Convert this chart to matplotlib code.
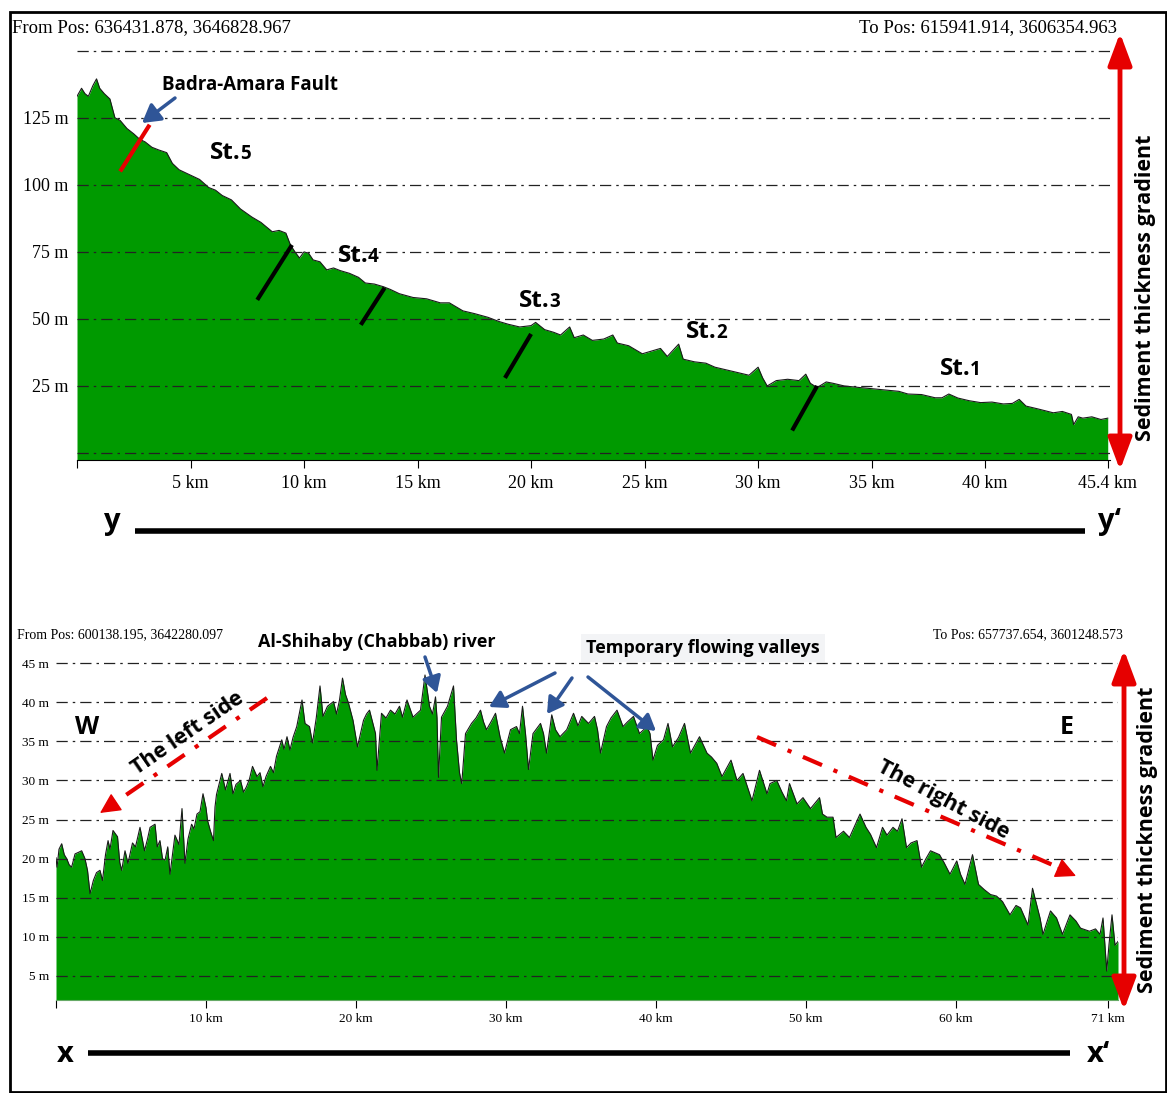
# plot.py
# Two elevation profiles (y-y' and x-x') with annotations

import numpy as np
import matplotlib
matplotlib.use("Agg")
from matplotlib import pyplot as plt
from matplotlib.patches import FancyArrowPatch, Rectangle
from matplotlib.lines import Line2D

# Figure size in pixels
W = 1167
H = 1093

# Profile y-y' (distance in km, elevation in m)
yy_km = [0.0, 0.2, 0.35, 0.5, 0.7, 0.86, 1.0, 1.2, 1.45, 1.67, 1.9, 2.2, 2.5, 2.76, 3.0,
         3.3, 3.6, 3.95, 4.2, 4.5, 4.9, 5.4, 5.8, 6.1, 6.4, 6.8, 7.2, 7.7, 8.1, 8.6,
         8.9, 9.2, 9.4, 9.6, 9.8, 10.0, 10.2, 10.4, 10.7, 11.0, 11.3, 11.6, 12.0, 12.4, 12.7,
         13.1, 13.5, 13.8, 14.2, 14.8, 15.4, 16.0, 16.4, 17.0, 17.5, 18.1, 18.6, 19.0, 19.5, 20.0,
         20.2, 20.6, 21.0, 21.3, 21.7, 21.9, 22.3, 22.7, 23.2, 23.6, 23.8, 24.3, 24.9, 25.3, 25.7,
         26.0, 26.5, 26.7, 27.2, 27.7, 28.1, 28.6, 29.1, 29.6, 30.0, 30.2, 30.4, 30.8, 31.3, 31.8,
         32.1, 32.3, 32.6, 33.0, 33.3, 33.8, 34.5, 35.0, 35.6, 36.2, 36.6, 37.2, 37.8, 38.1, 38.4,
         38.8, 39.3, 39.8, 40.3, 40.8, 41.2, 41.5, 41.8, 42.3, 43.0, 43.4, 43.8, 43.9, 44.1, 44.3,
         44.7, 45.1, 45.4]
yy_m = [133, 136, 134, 133, 137, 139.5, 136, 134, 132, 125, 124, 121, 119, 117, 116,
        114, 113, 112, 108, 105.6, 104, 102, 99, 98, 96, 94.4, 91, 88, 86, 82.5,
        83, 82, 77.6, 75, 72.7, 75, 74.5, 72, 71.3, 68.3, 69, 68, 67, 65.5, 63.4,
        63, 62, 61, 59.4, 58, 57.5, 56, 56, 53, 52, 50.6, 49, 48, 47, 47.5,
        48.7, 46, 45, 44, 47, 43, 44, 42, 42.5, 44, 41, 40, 37, 38, 39,
        36, 40.6, 35, 34, 33.5, 32, 31, 30, 29, 32, 28, 25, 27, 27.5, 27,
        29.4, 26, 24.4, 26.5, 26, 25, 24.4, 24, 23.5, 23, 22, 21.8, 20.6, 20.6, 22,
        20.5, 19.5, 18.8, 19, 18.3, 18.5, 20, 17.5, 16.5, 15, 15.5, 14.4, 10.6, 13.5, 13,
        13.5, 12.5, 13]

# Profile x-x' (distance in km, elevation in m)
xx_km = [0.0, 0.07, 0.2, 0.38, 0.55, 0.71, 0.88, 1.04, 1.27, 1.5, 1.71, 1.93, 2.1, 2.27, 2.49,
         2.7, 2.93, 3.1, 3.3, 3.47, 3.6, 3.8, 4.1, 4.25, 4.38, 4.6, 4.8, 5.1, 5.3, 5.6,
         5.9, 6.1, 6.27, 6.6, 6.75, 6.93, 7.1, 7.27, 7.45, 7.6, 7.93, 8.2, 8.4, 8.6, 8.8,
         9.04, 9.2, 9.4, 9.6, 9.8, 10.0, 10.1, 10.3, 10.5, 10.6, 10.7, 11.05, 11.3, 11.6, 11.8,
         12.0, 12.3, 12.5, 12.7, 12.9, 13.1, 13.4, 13.6, 13.8, 14.0, 14.3, 14.5, 14.7, 15.05, 15.2,
         15.4, 15.6, 15.8, 16.05, 16.4, 16.6, 16.9, 17.1, 17.35, 17.6, 17.8, 18.1, 18.5, 18.7, 18.9,
         19.1, 19.3, 19.5, 19.8, 20.1, 20.5, 20.7, 20.9, 21.1, 21.3, 21.4, 21.7, 22.0, 22.3, 22.6,
         22.9, 23.1, 23.4, 23.8, 24.3, 24.6, 24.9, 25.1, 25.3, 25.4, 25.5, 25.7, 26.1, 26.5, 26.7,
         26.9, 27.05, 27.3, 27.7, 28.0, 28.3, 28.5, 28.7, 29.0, 29.3, 29.6, 29.9, 30.1, 30.3, 30.7,
         30.9, 31.1, 31.3, 31.5, 31.8, 32.3, 32.5, 32.7, 33.05, 33.3, 33.6, 34.05, 34.5, 34.8, 35.05,
         35.5, 35.9, 36.1, 36.3, 36.7, 37.0, 37.4, 37.8, 38.1, 38.5, 38.9, 39.4, 39.6, 39.8, 40.1,
         40.5, 40.8, 41.1, 41.5, 41.9, 42.3, 42.9, 43.4, 43.7, 44.05, 44.4, 45.0, 45.4, 45.8, 46.4,
         46.9, 47.4, 47.6, 48.05, 48.4, 48.7, 48.9, 49.4, 49.8, 50.3, 50.9, 51.1, 51.4, 51.8, 52.0,
         52.5, 52.9, 53.2, 53.6, 54.0, 54.3, 54.7, 55.1, 55.4, 55.8, 56.1, 56.4, 56.7, 57.0, 57.4,
         57.7, 58.0, 58.3, 58.9, 59.2, 59.6, 60.05, 60.3, 60.6, 61.1, 61.5, 61.9, 62.3, 62.7, 63.1,
         63.6, 64.0, 64.3, 64.8, 65.1, 65.6, 65.8, 66.3, 66.7, 67.1, 67.6, 68.0, 68.3, 68.9, 69.3,
         69.6, 69.8, 70.05, 70.2, 70.4, 70.6, 70.8]
xx_m = [20.1, 18.9, 21.2, 21.9, 20.5, 20, 19.2, 18.9, 20.6, 20.8, 21, 20, 18.5, 15.5, 17.2,
        18.2, 18.5, 17.2, 20.5, 22.3, 21.2, 23.6, 22.8, 19.5, 18.5, 21, 19.4, 22, 21.5, 24,
        21, 22.5, 24, 24.4, 21.5, 22.3, 20, 19.8, 21.5, 18, 23, 21.8, 26.4, 19.4, 22.5,
        24.4, 23.8, 25.7, 26, 28.3, 26.5, 24.9, 23.5, 22.3, 26.6, 28.2, 30.9, 28.8, 30.9, 28.3,
        29.5, 30, 28.5, 29.2, 30.2, 31.8, 30.5, 31, 29.2, 30.5, 31.8, 31, 33.1, 35.2, 34,
        35.6, 33.9, 35.5, 36.9, 40.3, 37.3, 36.9, 34.8, 38, 42.1, 38.2, 39.5, 40.1, 38.5, 40.3,
        43.1, 41, 39.9, 37.7, 34.3, 37.7, 38.5, 39, 37.5, 36, 31.3, 38.6, 38, 39, 38.5,
        39.5, 38.1, 40.3, 38.1, 39, 43.5, 39.5, 38.5, 40.7, 38, 30.4, 38.1, 39.5, 42.1, 35.2,
        31, 29.6, 36, 37.3, 38, 39, 37.5, 36.5, 37.5, 38.6, 35.6, 33.5, 35, 36.5, 36.9,
        36, 39.5, 36, 31.4, 36, 37.3, 36, 33.5, 38.4, 36.5, 35.6, 36.5, 38.6, 37, 38.2,
        37.3, 38.2, 36.5, 33.5, 36.9, 38, 39, 36.9, 37.5, 38.2, 36, 36.9, 36, 32.6, 34.5,
        35.2, 37.3, 34.3, 35.5, 37.3, 33.5, 35.6, 33.5, 33, 32.2, 30.5, 32.6, 30, 30.9, 27.4,
        31.3, 28.3, 29.6, 30, 28.5, 27.4, 29.6, 27, 27.8, 26.4, 27.8, 25.7, 25.3, 25.3, 22.7,
        23.5, 22.7, 24, 25.7, 24, 23.1, 21.4, 24, 23, 24, 23.5, 25.1, 21.4, 22, 22.3,
        18.9, 20, 21, 20.5, 19.5, 18, 19.7, 18, 16.7, 20.5, 16.7, 16, 15.4, 15.2, 14.5,
        12.8, 14, 13.7, 11.5, 16.2, 12.4, 10.3, 13.3, 12.4, 10.3, 12.8, 12, 11.1, 10.7, 11,
        10.3, 12.4, 5.6, 9, 12.8, 8.9, 9.4]

# Axis ticks and levels
yy_ticks = [0, 5, 10, 15, 20, 25, 30, 35, 40, 45.4]
yy_tick_labels = ["", "5 km", "10 km", "15 km", "20 km", "25 km", "30 km", "35 km", "40 km", "45.4 km"]
yy_levels = [0, 25, 50, 75, 100, 125, 150]
yy_level_labels = ["", "25 m", "50 m", "75 m", "100 m", "125 m", ""]

xx_ticks = [0, 10, 20, 30, 40, 50, 60, 70.1]
xx_tick_labels = ["", "10 km", "20 km", "30 km", "40 km", "50 km", "60 km", "71 km"]
xx_levels = [5, 10, 15, 20, 25, 30, 35, 40, 45]
xx_level_labels = ["5 m", "10 m", "15 m", "20 m", "25 m", "30 m", "35 m", "40 m", "45 m"]

# Fault / station boundaries on y-y' (km, m)
fault_km = [1.9, 3.2]
fault_m = [105, 122.4]
station_km = [[7.94, 9.47], [12.5, 13.55], [18.85, 20.0], [31.5, 32.6]]
station_m = [[57.1, 77.6], [47.8, 61.6], [28, 44.4], [8.4, 25]]

GREEN = "#009a00"
RED = "#e60000"
BLUE = "#2f5597"
SERIF = "Liberation Serif"
SANS = "Open Sans"


# pixel (from top-left) -> figure fraction
def fx(x):
    return x / W

def fy(y):
    return 1 - y / H

def grid_line(ax, level):
    ax.axhline(level, color="#222222", lw=0.9, ls=(0, (9, 4, 2, 4)), zorder=3)

def fig_arrow(fig, p0, p1, color, lw, style, scale):
    a = FancyArrowPatch((fx(p0[0]), fy(p0[1])), (fx(p1[0]), fy(p1[1])), arrowstyle=style,
                        mutation_scale=scale, lw=lw, color=color, shrinkA=0, shrinkB=0,
                        transform=fig.transFigure)
    fig.add_artist(a)

def fig_line(fig, p0, p1, color, lw, ls="-"):
    fig.add_artist(Line2D([fx(p0[0]), fx(p1[0])], [fy(p0[1]), fy(p1[1])], color=color, lw=lw,
                          ls=ls, transform=fig.transFigure, solid_capstyle="butt"))

def station_label(fig, x, y, num):
    # "St." large, number a bit smaller, same baseline
    fig.text(fx(x), fy(y + 9), "St.", ha="left", va="baseline", fontsize=17.5, fontweight="bold", family=SANS)
    fig.text(fx(x + 30), fy(y + 9), num, ha="left", va="baseline", fontsize=13.5, fontweight="bold", family=SANS)


fig = plt.figure(figsize=(W / 100, H / 100), dpi=100)

# Outer frame
fig.add_artist(Rectangle((fx(10), fy(1092)), fx(1166) - fx(10), fy(12) - fy(1092), fill=False,
                         lw=2, edgecolor="black", transform=fig.transFigure))

# ---------------- Profile y-y' ----------------
ax1 = fig.add_axes([fx(77), fy(460), (1110 - 77) / W, (460 - 40) / H])
ax1.set_xlim(0, 45.5)
ax1.set_ylim(-2.6, 154)
ax1.fill_between(yy_km, yy_m, -2.6, color=GREEN, lw=0, zorder=1)
ax1.plot(yy_km, yy_m, color="#1a1a1a", lw=0.8, zorder=2)
for lv in yy_levels:
    grid_line(ax1, lv)
ax1.set_yticks(yy_levels)
ax1.set_yticklabels(yy_level_labels, family=SERIF, fontsize=13)
ax1.set_xticks(yy_ticks)
ax1.set_xticklabels(yy_tick_labels, family=SERIF, fontsize=13)
ax1.tick_params(axis="y", length=0, pad=6)
ax1.tick_params(axis="x", length=6, width=0.8, pad=5, direction="out")
for s in ["top", "right", "left"]:
    ax1.spines[s].set_visible(False)
ax1.spines["bottom"].set_linewidth(0.8)
ax1.patch.set_alpha(0)

ax1.plot(fault_km, fault_m, color=RED, lw=3, solid_capstyle="butt", zorder=4)
for k, m in zip(station_km, station_m):
    ax1.plot(k, m, color="black", lw=3, solid_capstyle="butt", zorder=4)

fig.text(fx(12), fy(28), "From Pos: 636431.878, 3646828.967", ha="left", va="center", family=SERIF, fontsize=13.5)
fig.text(fx(1117), fy(28), "To Pos: 615941.914, 3606354.963", ha="right", va="center", family=SERIF, fontsize=13.5)
fig.text(fx(250), fy(85), "Badra-Amara Fault", ha="center", va="center", fontsize=13.5, fontweight="bold", family=SANS)
fig_arrow(fig, (175, 98), (142, 123), BLUE, 2.5, "-|>,head_length=0.6,head_width=0.35", 18)

station_label(fig, 210, 150, "5")
station_label(fig, 338, 253, "4")
station_label(fig, 519, 298, "3")
station_label(fig, 686, 329, "2")
station_label(fig, 940, 366, "1")

big_head = "<|-|>,head_length=0.75,head_width=0.28"
fig_arrow(fig, (1120, 470), (1120, 33), RED, 3.5, big_head, 26)
fig.text(fx(1146), fy(288), "Sediment thickness gradient", rotation=90, ha="center", va="center",
         fontsize=15.5, fontweight="bold", family=SANS)

fig_line(fig, (135, 531), (1085, 531), "black", 4)
fig.text(fx(112), fy(522), "y", ha="center", va="center", fontsize=21, fontweight="bold", family=SANS)
fig.text(fx(1110), fy(522), "y\u2018", ha="center", va="center", fontsize=21, fontweight="bold", family=SANS)

# ---------------- Profile x-x' ----------------
ax2 = fig.add_axes([fx(56), fy(1000), (1118 - 56) / W, (1000 - 650) / H])
ax2.set_xlim(0, 70.8)
ax2.set_ylim(1.9, 46.7)
ax2.fill_between(xx_km, xx_m, 1.9, color=GREEN, lw=0, zorder=1)
ax2.plot(xx_km, xx_m, color="#1a1a1a", lw=0.8, zorder=2)
for lv in xx_levels:
    grid_line(ax2, lv)
ax2.set_yticks(xx_levels)
ax2.set_yticklabels(xx_level_labels, family=SERIF, fontsize=9.5)
ax2.set_xticks(xx_ticks)
ax2.set_xticklabels(xx_tick_labels, family=SERIF, fontsize=9.5)
ax2.tick_params(axis="y", length=0, pad=5)
ax2.tick_params(axis="x", length=6, width=0.8, pad=3, direction="out")
for s in ["top", "right", "left"]:
    ax2.spines[s].set_visible(False)
ax2.spines["bottom"].set_linewidth(0.8)
ax2.spines["bottom"].set_color("#66aa66")
ax2.patch.set_alpha(0)

fig.text(fx(17), fy(635), "From Pos: 600138.195, 3642280.097", ha="left", va="center", family=SERIF, fontsize=10)
fig.text(fx(1123), fy(635), "To Pos: 657737.654, 3601248.573", ha="right", va="center", family=SERIF, fontsize=10)
fig.text(fx(377), fy(642), "Al-Shihaby (Chabbab) river", ha="center", va="center", fontsize=13,
         fontweight="bold", family=SANS)
fig.text(fx(703), fy(648), "Temporary flowing valleys", ha="center", va="center", fontsize=13,
         fontweight="bold", family=SANS,
         bbox=dict(boxstyle="square,pad=0.3", facecolor="#f3f4f6", edgecolor="none"))

blue_style = "-|>,head_length=0.6,head_width=0.35"
fig_arrow(fig, (425, 657), (437, 693), BLUE, 2.5, blue_style, 16)
fig_arrow(fig, (555, 673), (489, 707), BLUE, 2.5, blue_style, 16)
fig_arrow(fig, (572, 678), (547, 714), BLUE, 2.5, blue_style, 16)
fig_arrow(fig, (588, 677), (656, 731), BLUE, 2.5, blue_style, 16)

fig.text(fx(87), fy(727), "W", ha="center", va="center", fontsize=18, fontweight="bold", family=SANS)
fig.text(fx(1067), fy(727), "E", ha="center", va="center", fontsize=18, fontweight="bold", family=SANS)

# left side arrow
fig_line(fig, (267, 698), (110, 806), RED, 3, (0, (5, 3, 1, 3)))
fig_arrow(fig, (115, 803), (100, 813), RED, 1, "-|>,head_length=0.8,head_width=0.4", 16)
fig.text(fx(188), fy(733), "The left side", rotation=34.5, ha="center", va="center", fontsize=15.5,
         fontweight="bold", family=SANS)

# right side arrow
fig_line(fig, (757, 737), (1062, 869), RED, 3, (0, (5, 3, 1, 3)))
fig_arrow(fig, (1058, 868), (1076, 876), RED, 1, "-|>,head_length=0.8,head_width=0.4", 16)
fig.text(fx(943), fy(800), "The right side", rotation=-28, ha="center", va="center", fontsize=15.5,
         fontweight="bold", family=SANS)

fig_arrow(fig, (1124, 1010), (1124, 650), RED, 3.5, big_head, 26)
fig.text(fx(1148), fy(840), "Sediment thickness gradient", rotation=90, ha="center", va="center",
         fontsize=15.5, fontweight="bold", family=SANS)

fig_line(fig, (88, 1053), (1070, 1053), "black", 4)
fig.text(fx(65), fy(1055), "x", ha="center", va="center", fontsize=21, fontweight="bold", family=SANS)
fig.text(fx(1098), fy(1055), "x\u2018", ha="center", va="center", fontsize=21, fontweight="bold", family=SANS)

fig.savefig("out.png", dpi=100)
